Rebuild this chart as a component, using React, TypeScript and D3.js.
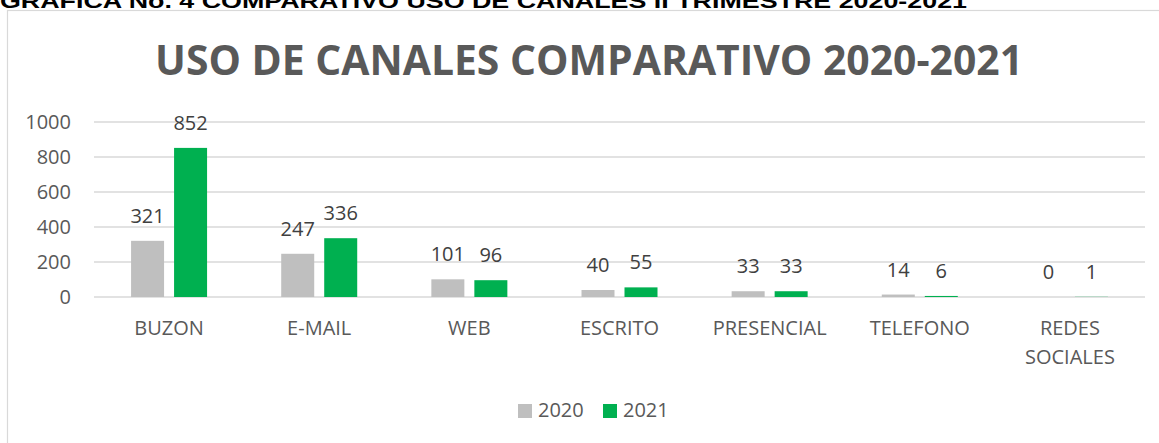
import React from "react";
import * as d3 from "d3";

const categories: string[][] = [
  ["BUZON"],
  ["E-MAIL"],
  ["WEB"],
  ["ESCRITO"],
  ["PRESENCIAL"],
  ["TELEFONO"],
  ["REDES", "SOCIALES"],
];
const series2020 = [321, 247, 101, 40, 33, 14, 0];
const series2021 = [852, 336, 96, 55, 33, 6, 1];
const yTicks = [0, 200, 400, 600, 800, 1000];
const seriesNames = ["2020", "2021"];
const seriesColors = ["#bfbfbf", "#00b050"];
const header = "GRAFICA No. 4 COMPARATIVO USO DE CANALES II TRIMESTRE 2020-2021";
const title = "USO DE CANALES COMPARATIVO 2020-2021";

export default function App() {
  const W = 1159, H = 443;
  const left = 94, right = 1145, top = 122, bottom = 297;
  const font = "'Open Sans', 'DejaVu Sans', sans-serif";
  const keys = categories.map((c) => c.join(" "));
  const x = d3.scaleBand<string>().domain(keys).range([left, right]).paddingInner(0).paddingOuter(0);
  const y = d3.scaleLinear().domain([0, 1000]).range([bottom, top]);
  const barW = 33, gap = 10;
  const sub = d3.scaleOrdinal<string, number>().domain(seriesNames).range([-gap / 2 - barW, gap / 2]);
  const all = [series2020, series2021];
  const fs = 20;

  return (
    <svg width={W} height={H} style={{ position: "absolute", left: 0, top: 0, background: "#fff" }} xmlns="http://www.w3.org/2000/svg">
      <rect x={0} y={0} width={W} height={H} fill="#fff" />
      <text x={0} y={7.5} fontFamily="'Liberation Sans', Arial, sans-serif" fontWeight="bold" fontSize={20} fill="#000" textLength={967} lengthAdjust="spacingAndGlyphs">
        {header}
      </text>
      <rect x={7.5} y={10.5} width={W} height={H + 10} fill="none" stroke="#d9d9d9" strokeWidth={1.2} />
      <text x={155} y={75} fontFamily={font} fontWeight="bold" fontSize={42} fill="#595959" textLength={868} lengthAdjust="spacingAndGlyphs">
        {title}
      </text>
      {yTicks.map((t) => (
        <g key={t}>
          <line x1={left} x2={right} y1={y(t)} y2={y(t)} stroke="#d9d9d9" strokeWidth={1.5} />
          <text x={71} y={y(t) + 7} textAnchor="end" fontFamily={font} fontSize={fs} fill="#595959">{t}</text>
        </g>
      ))}
      {keys.map((k, i) => {
        const cx = (x(k) as number) + x.bandwidth() / 2;
        return (
          <g key={k}>
            {all.map((s, j) => {
              const bx = cx + sub(seriesNames[j]);
              const by = y(s[i]);
              return (
                <g key={j}>
                  <rect x={bx} y={by} width={barW} height={Math.max(0, bottom - by)} fill={seriesColors[j]} />
                  <text x={bx + barW / 2} y={by - 18} textAnchor="middle" fontFamily={font} fontSize={fs} fill="#404040">{s[i]}</text>
                </g>
              );
            })}
            {categories[i].map((line, li) => (
              <text key={li} x={cx} y={335 + li * 29} textAnchor="middle" fontFamily={font} fontSize={fs} fill="#595959">{line}</text>
            ))}
          </g>
        );
      })}
      {seriesNames.map((n, j) => (
        <g key={n}>
          <rect x={518 + j * 85} y={404} width={14} height={14} fill={seriesColors[j]} />
          <text x={538 + j * 85} y={417} fontFamily={font} fontSize={fs} fill="#595959">{n}</text>
        </g>
      ))}
    </svg>
  );
}
